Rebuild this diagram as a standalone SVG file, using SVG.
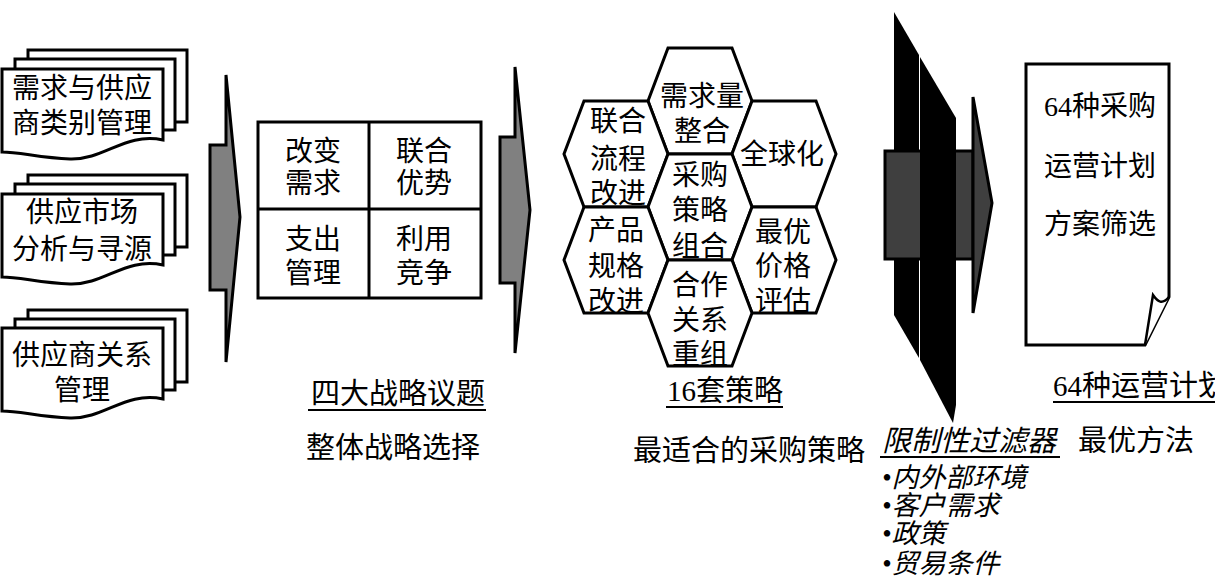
<svg xmlns="http://www.w3.org/2000/svg" width="1215" height="584" viewBox="0 0 1215 584">
<style>
.t{font-family:'Liberation Serif','Noto Sans CJK SC',serif;font-size:28px;fill:#000;text-anchor:middle}
.l{font-family:'Liberation Serif','Noto Sans CJK SC',serif;font-size:29px;fill:#000}
.b{font-family:'Liberation Serif','Noto Sans CJK SC',serif;font-size:27px;fill:#000;font-style:italic}
.it{font-style:italic}
.box{fill:#fff;stroke:#000;stroke-width:3;stroke-linejoin:miter}
.arr{fill:#808080;stroke:#000;stroke-width:3;stroke-linejoin:miter}
.dark{fill:#3f3f3f;stroke:#000;stroke-width:3}
.ul{stroke:#000;stroke-width:2}
</style>
<rect width="1215" height="584" fill="#fff"/>

<g id="doc1">
<rect class="box" x="28" y="50" width="159" height="72"/>
<rect class="box" x="15" y="59" width="160" height="71"/>
<path class="box" d="M2,69 H163 V140 C125,132 105,160 70,159 C40,158 20,152 2,152 Z"/>
<text class="t" x="82" y="98" font-size="29">需求与供应</text>
<text class="t" x="82" y="133" font-size="29">商类别管理</text>
</g>

<g id="doc2">
<rect class="box" x="28" y="175" width="159" height="72"/>
<rect class="box" x="15" y="184" width="160" height="71"/>
<path class="box" d="M2,194 H163 V265 C125,257 105,285 70,284 C40,283 20,277 2,277 Z"/>
<text class="t" x="82" y="222" font-size="29">供应市场</text>
<text class="t" x="82" y="259" font-size="29">分析与寻源</text>
</g>

<g id="doc3">
<rect class="box" x="28" y="310" width="159" height="72"/>
<rect class="box" x="15" y="319" width="160" height="71"/>
<path class="box" d="M2,328 H163 V399 C125,391 105,419 70,418 C40,417 20,411 2,411 Z"/>
<text class="t" x="82" y="365" font-size="29">供应商关系</text>
<text class="t" x="82" y="400" font-size="29">管理</text>
</g>

<g id="connectors">
<polygon class="arr" points="210,145 226,145 226,75 240,217 226,362 226,290 210,290"/>
<polygon class="arr" points="500,137 515,137 515,67 530,210 515,353 515,283 500,283"/>
</g>

<g id="grid">
<rect class="box" x="258" y="122" width="223" height="176"/>
<line x1="369" y1="122" x2="369" y2="298" stroke="#000" stroke-width="3"/>
<line x1="258" y1="209" x2="481" y2="209" stroke="#000" stroke-width="3"/>
<text class="t" x="313" y="161">改变</text>
<text class="t" x="313" y="193">需求</text>
<text class="t" x="424" y="161">联合</text>
<text class="t" x="424" y="193">优势</text>
<text class="t" x="313" y="249">支出</text>
<text class="t" x="313" y="283">管理</text>
<text class="t" x="424" y="249">利用</text>
<text class="t" x="424" y="283">竞争</text>
</g>

<g id="hexes">
<g id="hex-top"><polygon class="box" points="668,48 732,48 752,101 732,154 668,154 648,101"/>
<text class="t" x="702" y="106">需求量</text><text class="t" x="702" y="141">整合</text></g>
<g id="hex-lt"><polygon class="box" points="584,101 648,101 668,154 648,207 584,207 564,154"/>
<text class="t" x="618" y="131">联合</text><text class="t" x="618" y="169">流程</text><text class="t" x="618" y="203">改进</text></g>
<g id="hex-rt"><polygon class="box" points="752,101 816,101 836,154 816,207 752,207 732,154"/>
<text class="t" x="782" y="164">全球化</text></g>
<g id="hex-c"><polygon class="box" points="668,154 732,154 752,207 732,260 668,260 648,207"/>
<text class="t" x="700" y="185">采购</text><text class="t" x="700" y="220">策略</text><text class="t" x="700" y="256">组合</text></g>
<g id="hex-lb"><polygon class="box" points="584,207 648,207 668,260 648,313 584,313 564,260"/>
<text class="t" x="616" y="240">产品</text><text class="t" x="616" y="276">规格</text><text class="t" x="616" y="311">改进</text></g>
<g id="hex-rb"><polygon class="box" points="752,207 816,207 836,260 816,313 752,313 732,260"/>
<text class="t" x="783" y="242">最优</text><text class="t" x="783" y="276">价格</text><text class="t" x="783" y="311">评估</text></g>
<g id="hex-b"><polygon class="box" points="668,260 732,260 752,313 732,366 668,366 648,313"/>
<text class="t" x="700" y="295">合作</text><text class="t" x="700" y="330">关系</text><text class="t" x="700" y="364">重组</text></g>
</g>

<g id="filter">
<polygon points="894,12 919,55 919,358 894,315" fill="#000"/>
<rect class="dark" x="885" y="151" width="88" height="108"/>
<polygon points="920,57 956,118 956,405 953,423 920,360" fill="#000"/>
<polygon class="dark" points="973,97 992,203 973,313"/>
</g>

<g id="plan-doc">
<path class="box" d="M1026,64 H1169 V297 L1145,345 H1026 Z"/>
<path d="M1169,297 C1162,305 1158,302 1153,295 L1145,345" fill="#fff" stroke="#000" stroke-width="2.5"/>
<text class="t" x="1100" y="116">64种采购</text>
<text class="t" x="1100" y="176">运营计划</text>
<text class="t" x="1100" y="234">方案筛选</text>
</g>

<g id="labels">
<text class="l" x="311" y="404">四大战略议题</text>
<line class="ul" x1="308" y1="410" x2="486" y2="410"/>
<text class="l" x="306" y="458">整体战略选择</text>
<text class="l" x="667" y="401">16套策略</text>
<line class="ul" x1="666" y1="407" x2="783" y2="407"/>
<text class="l" x="633" y="461">最适合的采购策略</text>
<text class="l" x="1053" y="396">64种运营计划</text>
<line class="ul" x1="1053" y1="402" x2="1215" y2="402"/>
<text class="l it" x="882" y="451">限制性过滤器</text>
<line class="ul" x1="880" y1="457" x2="1060" y2="457"/>
<text class="l" x="1078" y="451">最优方法</text>
<text class="b" x="882" y="487">•内外部环境</text>
<text class="b" x="882" y="515">•客户需求</text>
<text class="b" x="882" y="543">•政策</text>
<text class="b" x="882" y="573">•贸易条件</text>
</g>
</svg>
